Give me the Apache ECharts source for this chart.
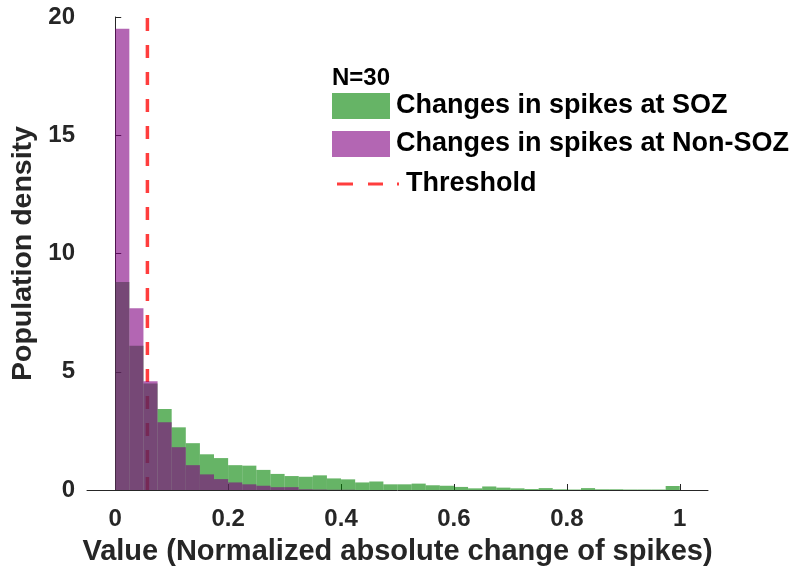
<!DOCTYPE html>
<html><head><meta charset="utf-8">
<script src="https://cdn.jsdelivr.net/npm/echarts@6/dist/echarts.min.js"></script>
<style>html,body{margin:0;padding:0;background:#fff}#c{width:797px;height:575px}</style>
</head><body><div id="c"></div>
<script>
// Histogram bins of width 0.025 from 0 to 1
const binWidth = 0.025;
const sozDensity = [8.8, 6.1, 4.5, 3.42, 2.65, 1.98, 1.51, 1.35, 1.05, 1.03,
  0.85, 0.68, 0.59, 0.56, 0.62, 0.49, 0.45, 0.32, 0.36, 0.24,
  0.24, 0.27, 0.2, 0.18, 0.13, 0.07, 0.15, 0.1, 0.07, 0.04,
  0.08, 0.03, 0.02, 0.08, 0.03, 0.03, 0.02, 0.02, 0.02, 0.17];
const nonSozDensity = [19.5, 7.68, 4.6, 2.86, 1.81, 1.05, 0.66, 0.46, 0.32, 0.24,
  0.18, 0.12, 0.12, 0.03, 0.02, 0.01, 0.01, 0, 0, 0,
  0, 0, 0, 0, 0, 0, 0, 0, 0, 0,
  0, 0, 0, 0, 0, 0, 0, 0, 0, 0];
const thresholdValue = 0.057;
const xTicks = [0, 0.2, 0.4, 0.6, 0.8, 1];
const yTicks = [0, 5, 10, 15, 20];
const seriesNames = ['Changes in spikes at SOZ', 'Changes in spikes at Non-SOZ', 'Threshold'];
const annotationText = 'N=30';

const toBins = arr => arr.map((v, i) => [i * binWidth, (i + 1) * binWidth, v]);
const FONT = '"Liberation Sans", Arial, Helvetica, sans-serif';
const AX = '#262626';
const dashIcon = 'path://M0,0h16v3h-16z M31,0h15v3h-15z M60,0h2v3h-2z';

function renderBar(params, api) {
  const p0 = api.coord([api.value(0), api.value(2)]);
  const p1 = api.coord([api.value(1), 0]);
  return { type: 'rect', shape: { x: p0[0], y: p0[1], width: p1[0] - p0[0], height: p1[1] - p0[1] }, style: api.style() };
}

const chart = echarts.init(document.getElementById('c'), null, { renderer: 'canvas' });
chart.setOption({
  animation: false,
  backgroundColor: '#fff',
  textStyle: { fontFamily: FONT },
  title: {
    text: annotationText, left: 332, top: 66, padding: 0,
    textStyle: { fontFamily: FONT, fontWeight: 'bold', fontSize: 24, color: '#000' }
  },
  legend: [{
    data: [seriesNames[0], seriesNames[1]],
    orient: 'vertical', left: 332, top: 92, padding: 0,
    itemWidth: 58, itemHeight: 26, itemGap: 10, icon: 'rect',
    textStyle: { fontFamily: FONT, fontWeight: 'bold', fontSize: 27, lineHeight: 26, color: '#000', padding: [2, 0, 0, 1] }
  }, {
    data: [{ name: seriesNames[2], icon: dashIcon }],
    orient: 'vertical', left: 337, top: 170, padding: 0,
    itemWidth: 62, itemHeight: 26,
    textStyle: { fontFamily: FONT, fontWeight: 'bold', fontSize: 27, lineHeight: 26, color: '#000', padding: [2, 0, 0, 2] }
  }],
  grid: { left: 87, right: 89, top: 17, bottom: 85, containLabel: false, outerBoundsMode: 'none' },
  xAxis: {
    type: 'value', min: -0.05, max: 1.05,
    name: 'Value (Normalized absolute change of spikes)',
    nameLocation: 'middle', nameGap: 47,
    nameTextStyle: { fontFamily: FONT, fontWeight: 'bold', fontSize: 29, color: AX },
    axisLine: { show: true, lineStyle: { color: AX, width: 1 } },
    axisTick: { show: true, inside: true, length: 6, customValues: xTicks, lineStyle: { color: AX } },
    axisLabel: { customValues: xTicks, margin: 17, fontFamily: FONT, fontWeight: 'bold', fontSize: 24, color: AX },
    splitLine: { show: false }
  },
  yAxis: {
    type: 'value', min: 0, max: 20, interval: 5,
    name: 'Population density', nameLocation: 'middle', nameGap: 41,
    nameTextStyle: { fontFamily: FONT, fontWeight: 'bold', fontSize: 28.5, color: AX },
    axisLine: { show: true, lineStyle: { color: AX, width: 1 } },
    axisTick: { show: true, inside: true, length: 6, lineStyle: { color: AX } },
    axisLabel: { margin: 12, fontFamily: FONT, fontWeight: 'bold', fontSize: 24, color: AX },
    splitLine: { show: false }
  },
  series: [{
    name: seriesNames[2], type: 'line', z: 1,
    data: [[thresholdValue, yTicks[0]], [thresholdValue, yTicks[yTicks.length - 1]]],
    symbol: 'none', showSymbol: false,
    lineStyle: { color: '#ff3d3d', width: 3.5, type: [13, 14] },
    itemStyle: { color: '#ff3d3d' }
  }, {
    name: seriesNames[0], type: 'custom', z: 2,
    renderItem: renderBar, encode: { x: [0, 1], y: 2 },
    itemStyle: { color: 'rgba(0,130,0,0.6)' },
    data: toBins(sozDensity)
  }, {
    name: seriesNames[1], type: 'custom', z: 3,
    renderItem: renderBar, encode: { x: [0, 1], y: 2 },
    itemStyle: { color: 'rgba(128,0,128,0.6)' },
    data: toBins(nonSozDensity)
  }]
});
</script></body></html>
